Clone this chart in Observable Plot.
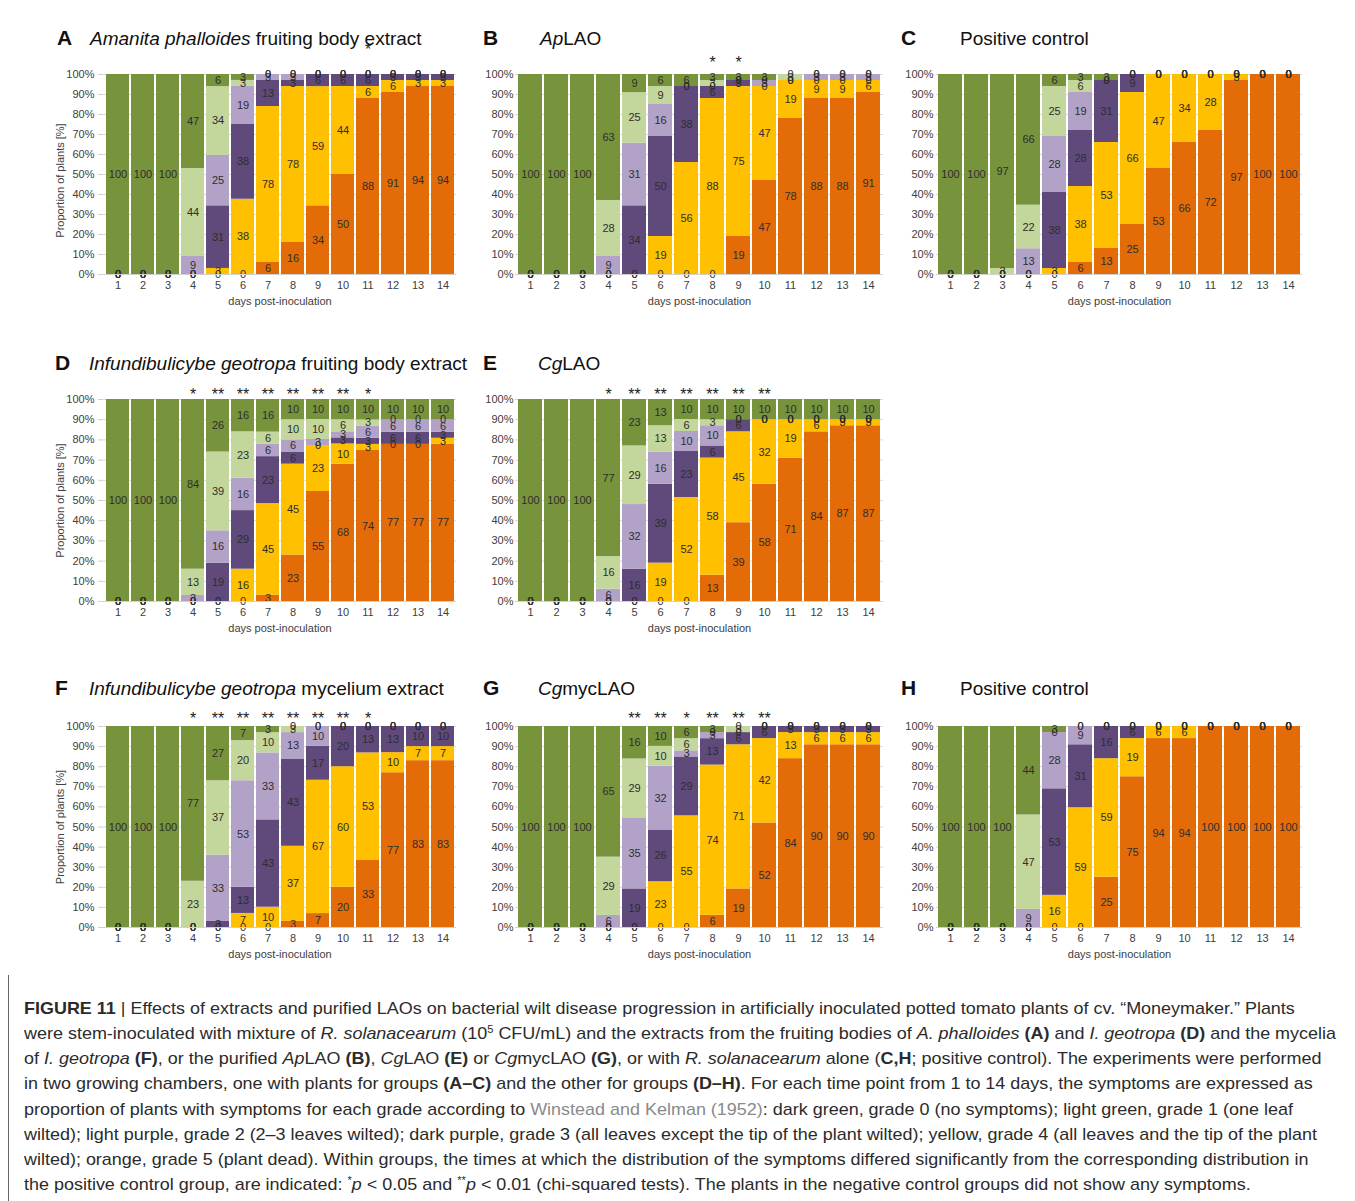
<!DOCTYPE html>
<html>
<head>
<meta charset="utf-8">
<script src="https://cdn.jsdelivr.net/npm/d3@7"></script>
<script src="https://cdn.jsdelivr.net/npm/@observablehq/plot@0.6"></script>
<style>
  body { margin: 0; background: #fff; }
  #page { position: relative; width: 1355px; height: 1201px; overflow: hidden; background: #fff; font-family: "Liberation Sans", Arial, sans-serif; }
  .panel { position: absolute; }
  .panel svg { overflow: visible; }
  #titles { position: absolute; left: 0; top: 0; pointer-events: none; }
  #capborder { position: absolute; left: 8px; top: 975px; width: 1px; height: 226px; background: #666; }
  #caption { position: absolute; left: 24px; top: 996px; color: #2b2b2b; font-family: "Liberation Sans Narrow", "Liberation Sans", Arial, sans-serif; font-size: 17px; line-height: 25.15px; transform-origin: 0 0; }
  #caption div { white-space: nowrap; }
  #caption sup { font-size: 0.62em; line-height: 0; vertical-align: 0.55em; }
  #caption .ref { color: #8a8a8a; }
</style>
</head>
<body>
<div id="page">
  <svg id="titles" width="1355" height="1201"></svg>
  <div id="capborder"></div>
  <div id="caption">
    <div><b>FIGURE 11</b> | Effects of extracts and purified LAOs on bacterial wilt disease progression in artificially inoculated potted tomato plants of cv. “Moneymaker.” Plants</div>
    <div>were stem-inoculated with mixture of <i>R. solanacearum</i> (10<sup>5</sup> CFU/mL) and the extracts from the fruiting bodies of <i>A. phalloides</i> <b>(A)</b> and <i>I. geotropa</i> <b>(D)</b> and the mycelia</div>
    <div>of <i>I. geotropa</i> <b>(F)</b>, or the purified <i>Ap</i>LAO <b>(B)</b>, <i>Cg</i>LAO <b>(E)</b> or <i>Cg</i>mycLAO <b>(G)</b>, or with <i>R. solanacearum</i> alone (<b>C,H</b>; positive control). The experiments were performed</div>
    <div>in two growing chambers, one with plants for groups <b>(A–C)</b> and the other for groups <b>(D–H)</b>. For each time point from 1 to 14 days, the symptoms are expressed as</div>
    <div>proportion of plants with symptoms for each grade according to <span class="ref">Winstead and Kelman (1952)</span>: dark green, grade 0 (no symptoms); light green, grade 1 (one leaf</div>
    <div>wilted); light purple, grade 2 (2–3 leaves wilted); dark purple, grade 3 (all leaves except the tip of the plant wilted); yellow, grade 4 (all leaves and the tip of the plant</div>
    <div>wilted); orange, grade 5 (plant dead). Within groups, the times at which the distribution of the symptoms differed significantly from the corresponding distribution in</div>
    <div>the positive control group, are indicated: <sup>*</sup><i>p</i> &lt; 0.05 and <sup>**</sup><i>p</i> &lt; 0.01 (chi-squared tests). The plants in the negative control groups did not show any symptoms.</div>
  </div>
</div>
<script>
// ---------- DATA ----------
const days = [1, 2, 3, 4, 5, 6, 7, 8, 9, 10, 11, 12, 13, 14];
const grades = ["0", "1", "2", "3", "4", "5"];
const gradeColors = ["#77933C", "#C3D69B", "#B3A2C7", "#604A7B", "#FFC000", "#E36C09"];

// each row = one day: [grade0, grade1, grade2, grade3, grade4, grade5] (% of plants)
const panelA = [
  [100,0,0,0,0,0],[100,0,0,0,0,0],[100,0,0,0,0,0],[47,44,9,0,0,0],
  [6,34,25,31,3,0],[3,3,19,38,38,0],[0,0,3,13,78,6],[0,0,3,3,78,16],
  [0,0,0,6,59,34],[0,0,0,6,44,50],[0,0,0,6,6,88],[0,0,0,3,6,91],
  [0,0,0,3,3,94],[0,0,0,3,3,94]
];
const panelB = [
  [100,0,0,0,0,0],[100,0,0,0,0,0],[100,0,0,0,0,0],[63,28,9,0,0,0],
  [9,25,31,34,0,0],[6,9,16,50,19,0],[6,0,0,38,56,0],[3,3,0,6,88,0],
  [3,0,0,3,75,19],[3,0,3,0,47,47],[0,3,0,0,19,78],[0,0,3,0,9,88],
  [0,0,3,0,9,88],[0,0,3,0,6,91]
];
const panelC = [
  [100,0,0,0,0,0],[100,0,0,0,0,0],[97,3,0,0,0,0],[66,22,13,0,0,0],
  [6,25,28,38,3,0],[3,6,19,28,38,6],[3,0,0,31,53,13],[0,0,0,9,66,25],
  [0,0,0,0,47,53],[0,0,0,0,34,66],[0,0,0,0,28,72],[0,0,0,0,3,97],
  [0,0,0,0,0,100],[0,0,0,0,0,100]
];
const panelD = [
  [100,0,0,0,0,0],[100,0,0,0,0,0],[100,0,0,0,0,0],[84,13,3,0,0,0],
  [26,39,16,19,0,0],[16,23,16,29,16,0],[16,6,6,23,45,3],[10,10,6,6,45,23],
  [10,10,3,0,23,55],[10,6,3,3,10,68],[10,3,6,3,3,74],[10,0,6,6,0,77],
  [10,0,6,6,0,77],[10,0,6,3,3,77]
];
const panelE = [
  [100,0,0,0,0,0],[100,0,0,0,0,0],[100,0,0,0,0,0],[77,16,6,0,0,0],
  [23,29,32,16,0,0],[13,13,16,39,19,0],[10,6,10,23,52,0],[10,3,10,6,58,13],
  [10,0,0,6,45,39],[10,0,0,0,32,58],[10,0,0,0,19,71],[10,0,0,0,6,84],
  [10,0,0,0,3,87],[10,0,0,0,3,87]
];
const panelF = [
  [100,0,0,0,0,0],[100,0,0,0,0,0],[100,0,0,0,0,0],[77,23,0,0,0,0],
  [27,37,33,3,0,0],[7,20,53,13,7,0],[3,10,33,43,10,0],[0,3,13,43,37,3],
  [0,0,10,17,67,7],[0,0,0,20,60,20],[0,0,0,13,53,33],[0,0,0,13,10,77],
  [0,0,0,10,7,83],[0,0,0,10,7,83]
];
const panelG = [
  [100,0,0,0,0,0],[100,0,0,0,0,0],[100,0,0,0,0,0],[65,29,6,0,0,0],
  [16,29,35,19,0,0],[10,10,32,26,23,0],[6,6,3,29,55,0],[3,0,3,13,74,6],
  [0,3,0,6,71,19],[0,0,0,6,42,52],[0,0,0,3,13,84],[0,0,0,3,6,90],
  [0,0,0,3,6,90],[0,0,0,3,6,90]
];
const panelH = [
  [100,0,0,0,0,0],[100,0,0,0,0,0],[100,0,0,0,0,0],[44,47,9,0,0,0],
  [3,0,28,53,16,0],[0,0,9,31,59,0],[0,0,0,16,59,25],[0,0,0,6,19,75],
  [0,0,0,0,6,94],[0,0,0,0,6,94],[0,0,0,0,0,100],[0,0,0,0,0,100],
  [0,0,0,0,0,100],[0,0,0,0,0,100]
];

// significance marks per day
const sigA = ["","","","","","","","","","","*","","",""];
const sigB = ["","","","","","","","*","*","","","","",""];
const sigC = ["","","","","","","","","","","","","",""];
const sigD = ["","","","*","**","**","**","**","**","**","*","","",""];
const sigE = ["","","","*","**","**","**","**","**","**","","","",""];
const sigF = ["","","","*","**","**","**","**","**","**","*","","",""];
const sigG = ["","","","","**","**","*","**","**","**","","","",""];
const sigH = ["","","","","","","","","","","","","",""];

const panelLetters = ["A","B","C","D","E","F","G","H"];
const panelTitles = [
  [["Amanita phalloides", true], [" fruiting body extract", false]],
  [["Ap", true], ["LAO", false]],
  [["Positive control", false]],
  [["Infundibulicybe geotropa", true], [" fruiting body extract", false]],
  [["Cg", true], ["LAO", false]],
  [["Infundibulicybe geotropa", true], [" mycelium extract", false]],
  [["Cg", true], ["mycLAO", false]],
  [["Positive control", false]]
];
const xLabel = "days post-inoculation";
const yLabel = "Proportion of plants [%]";

// ---------- LAYOUT (styles only) ----------
const cols = [
  {left: 50,  ml: 53, mr: 14, tickSize: 5, tickPadding: 4, ylabel: true},
  {left: 470, ml: 45, mr: 7,  tickSize: 0, tickPadding: 2, ylabel: false},
  {left: 890, ml: 46, mr: 8,  tickSize: 0, tickPadding: 3, ylabel: false}
];
const rows = [
  {plotTop: 74,  plotH: 200, baseline: 45},
  {plotTop: 399, plotH: 202, baseline: 370},
  {plotTop: 726, plotH: 201, baseline: 695}
];
const panels = [
  {data: panelA, sig: sigA, col: 0, row: 0, sigDy: -25, yLabelDy: 6, letterX: 57, titleX: 90},
  {data: panelB, sig: sigB, col: 1, row: 0, sigDy: -12, yLabelDy: 0, letterX: 483, titleX: 540},
  {data: panelC, sig: sigC, col: 2, row: 0, sigDy: -10, yLabelDy: 0, letterX: 901, titleX: 960},
  {data: panelD, sig: sigD, col: 0, row: 1, sigDy: -5, yLabelDy: 0, letterX: 55, titleX: 89},
  {data: panelE, sig: sigE, col: 1, row: 1, sigDy: -5, yLabelDy: 0, letterX: 483, titleX: 538},
  {data: panelF, sig: sigF, col: 0, row: 2, sigDy: -8, yLabelDy: 0, letterX: 55, titleX: 89},
  {data: panelG, sig: sigG, col: 1, row: 2, sigDy: -8, yLabelDy: 0, letterX: 483, titleX: 538},
  {data: panelH, sig: sigH, col: 2, row: 2, sigDy: -8, yLabelDy: 0, letterX: 901, titleX: 960}
];

const MT = 40, MB = 40, W = 420;
const page = document.getElementById("page");
const fontFamily = "'Liberation Sans', Arial, sans-serif";

function makePanel(p) {
  const c = cols[p.col], r = rows[p.row];
  const tidy = [];
  p.data.forEach((vals, i) => {
    for (let g = 5; g >= 0; g--) tidy.push({day: days[i], grade: grades[g], value: vals[g]});
  });
  const sigData = p.sig.map((s, i) => ({day: days[i], s})).filter(d => d.s);
  const stackOpts = {offset: "normalize"};
  const marks = [
    Plot.gridY({ticks: 10, stroke: "#d9d9d9", strokeOpacity: 1}),
    Plot.axisY({ticks: 10, tickFormat: d3.format(".0%"), tickSize: c.tickSize, tickPadding: c.tickPadding, stroke: "#d0d0d0", fill: "#404040", label: null}),
    Plot.barY(tidy, Plot.stackY(stackOpts, {x: "day", y: "value", z: "grade", fill: "grade"})),
    Plot.text(tidy, Plot.stackY(stackOpts, {x: "day", y: "value", z: "grade", text: d => String(d.value), fill: "#2e2e2e", fontSize: 11})),
    Plot.ruleY([0], {stroke: "#d0d0d0"}),
    Plot.axisX({tickSize: 0, tickPadding: 7, fill: "#404040", label: null}),
    Plot.text([xLabel], {frameAnchor: "bottom", dy: 27, textAnchor: "middle", lineAnchor: "middle", fill: "#404040", fontSize: 11}),
    Plot.text(sigData, {x: "day", text: "s", frameAnchor: "top", dy: p.sigDy, lineAnchor: "middle", fontSize: 16, fill: "#222"})
  ];
  if (c.ylabel) {
    marks.push(Plot.text([yLabel], {frameAnchor: "left", rotate: -90, dx: -43, dy: p.yLabelDy, textAnchor: "middle", lineAnchor: "middle", fill: "#404040", fontSize: 11}));
  }
  const svg = Plot.plot({
    width: W,
    height: MT + r.plotH + MB,
    marginLeft: c.ml, marginRight: c.mr, marginTop: MT, marginBottom: MB,
    style: {fontFamily, fontSize: "11px", color: "#404040", background: "transparent", overflow: "visible"},
    x: {type: "band", domain: days, paddingInner: 0.09, paddingOuter: 0},
    y: {domain: [0, 1]},
    color: {domain: grades, range: gradeColors},
    marks
  });
  const div = document.createElement("div");
  div.className = "panel";
  div.style.left = c.left + "px";
  div.style.top = (r.plotTop - MT) + "px";
  div.appendChild(svg);
  page.appendChild(div);
}
panels.forEach(makePanel);

// titles
const tsvg = d3.select("#titles");
panels.forEach((p, i) => {
  const r = rows[p.row];
  tsvg.append("text").attr("x", p.letterX).attr("y", r.baseline)
    .attr("font-family", fontFamily).attr("font-weight", "bold").attr("font-size", 21)
    .attr("fill", "#111").text(panelLetters[i]);
  const t = tsvg.append("text").attr("x", p.titleX).attr("y", r.baseline)
    .attr("font-family", fontFamily).attr("font-size", 19).attr("fill", "#111");
  panelTitles[i].forEach(([s, it]) => {
    t.append("tspan").attr("font-style", it ? "italic" : "normal").text(s);
  });
});
page.appendChild(document.getElementById("titles"));

// caption horizontal fit
const cap = document.getElementById("caption");
const lines = cap.querySelectorAll("div");
const natural = lines[1].getBoundingClientRect().width;
const k = 1312 / natural;
cap.style.transform = `scaleX(${k})`;
</script>
</body>
</html>
